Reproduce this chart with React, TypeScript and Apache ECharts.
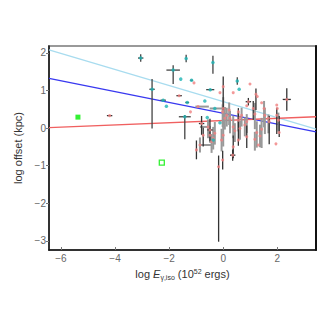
import React, { useEffect, useRef } from "react";
import * as echarts from "echarts";

// [x, y, xErrLo, xErrHi, yErrLo, yErrHi]
const cyanPoints = [
  [-3.05, 1.86, 0.1, 0.1, 0.1, 0.1],
  [-1.85, 1.54, 0.25, 0.25, 0.37, 0.13],
  [-1.57, 1.3, 0, 0, 0, 0],
  [-2.63, 1.03, 0.1, 0.1, 1.04, 0.27],
  [-2.22, 0.74, 0.1, 0.1, 0, 0],
  [-2.1, 0.58, 0, 0, 0, 0],
  [-1.33, 0.68, 0.07, 0.07, 0, 0],
  [-1.42, 0.3, 0.22, 0.22, 0.6, 0.05],
  [-1.37, 1.85, 0, 0, 0.1, 0.1],
  [-0.38, 1.74, 0, 0, 0.3, 0.18],
  [-1.17, 1.27, 0.05, 0.05, 0, 0],
  [-0.48, 1.02, 0.15, 0.15, 0, 0],
  [0.52, 1.25, 0, 0, 0.1, 0.1],
  [0.59, 1.03, 0, 0, 0, 0],
  [-0.68, 0.72, 0, 0, 0, 0],
  [-0.31, 0.52, 0, 0, 0, 0],
  [-0.59, 0.28, 0, 0, 0, 0],
  [-0.12, 0.14, 0, 0, 0, 0],
  [-0.37, -0.32, 0, 0, 0, 0],
];

// [x, y, xErrLo, xErrHi, yErrLo, yErrHi] drawn with dark error bars
const salmonDark = [
  [-4.2, 0.33, 0.1, 0.1, 0, 0],
  [-1.63, 0.86, 0.1, 0.1, 0, 0],
  [0.0, 1.1, 0, 0, 0.62, 0.27],
  [1.21, 0.9, 0, 0, 0.42, 0.15],
  [0.93, 0.7, 0.1, 0.1, 0.1, 0.1],
  [2.35, 0.76, 0.15, 0.15, 0.3, 0.3],
  [0.56, 0.43, 0, 0, 0.9, 0.1],
  [1.11, 0.52, 0, 0, 0.3, 0.2],
  [1.7, 0.17, 0, 0, 0.6, 0.15],
  [2.07, -0.12, 0, 0, 0.12, 0.44],
  [0.37, -0.5, 0, 0, 0.3, 0.3],
  [-0.74, -0.19, 0, 0, 0.3, 0.2],
  [-0.99, -0.58, 0, 0, 0.25, 0.25],
  [0.35, -0.72, 0.1, 0.1, 0.15, 0.15],
  [-0.17, -1.03, 0, 0, 1.99, 0.3],
  [-0.02, -0.85, 0, 0, 0.25, 0.25],
  [-0.8, 0.12, 0.1, 0.1, 0.3, 0.2],
  [-0.49, -0.05, 0.1, 0.1, 0.3, 0.3],
  [1.98, 0.34, 0, 0, 0.5, 0.2],
  [0.87, -0.23, 0, 0, 0.3, 0.3],
];

// [x, y, xErrLo, xErrHi, yErrLo, yErrHi] drawn with grey error bars
const salmonGrey = [
  [-1.08, 1.2, 0, 0, 0, 0],
  [-0.12, 0.94, 0, 0, 0, 0],
  [0.37, 0.94, 0, 0, 0, 0],
  [0.99, 1.17, 0, 0, 0, 0],
  [1.26, 0.84, 0, 0, 0, 0],
  [1.42, 0.67, 0, 0, 0, 0],
  [0.87, 0.59, 0, 0, 0, 0],
  [1.98, 0.61, 0, 0, 0, 0],
  [2.0, 0.52, 0, 0, 0, 0],
  [0.0, 0.52, 0.5, 0.1, 0.5, 0.3],
  [-0.02, 0.43, 0, 0, 0.4, 0.2],
  [0.22, 0.48, 0, 0, 0.4, 0.2],
  [0.06, 0.26, 0, 0, 0.3, 0.3],
  [0.68, 0.34, 0, 0, 0.3, 0.2],
  [0.62, 0.28, 0, 0, 0, 0],
  [1.17, 0.37, 0, 0, 0.4, 0.3],
  [1.51, 0.52, 0, 0, 0.5, 0.2],
  [1.54, 0.34, 0, 0, 0.5, 0.2],
  [1.67, 0.26, 0, 0, 0.4, 0.1],
  [2.04, 0.21, 0, 0, 0.3, 0.2],
  [1.95, -0.42, 0, 0, 0, 0],
  [0.87, 0.17, 0, 0, 0.3, 0.2],
  [0.56, 0.21, 0, 0, 0.3, 0.2],
  [0.37, 0.03, 0, 0, 0.3, 0.3],
  [0.43, -0.07, 0, 0, 0.3, 0.2],
  [0.25, 0.26, 0, 0, 0.4, 0.2],
  [0.62, -0.01, 0, 0, 0.3, 0.2],
  [0.8, 0.08, 0, 0, 0.3, 0.2],
  [1.24, -0.12, 0, 0, 0.4, 0.3],
  [1.36, -0.21, 0, 0, 0.3, 0.3],
  [1.42, -0.03, 0, 0, 0.5, 0.3],
  [1.17, -0.3, 0, 0, 0.3, 0.2],
  [1.3, -0.45, 0, 0, 0, 0],
  [0.56, -0.32, 0, 0, 0, 0],
  [-0.06, -0.32, 0, 0, 0.3, 0.3],
  [0.0, -0.19, 0, 0, 0.3, 0.3],
  [-0.49, -0.19, 0, 0, 0.2, 0.2],
  [-0.37, -0.27, 0, 0, 0.3, 0.3],
  [-0.56, 0.03, 0.3, 0.1, 0.3, 0.2],
  [-0.31, -0.14, 0, 0, 0.3, 0.3],
  [-0.43, -0.36, 0, 0, 0.3, 0.2],
  [-0.86, -0.45, 0, 0.45, 0.2, 0.2],
  [-1.21, 0.43, 0, 0, 0, 0],
  [-0.93, 0.57, 0.1, 0.4, 0, 0],
  [0.13, 0.34, 0, 0, 0.3, 0.2],
];

const greenFilled = [[-5.37, 0.29]];
const greenOpen = [[-2.27, -0.92]];

const lightBlueLine = [[-6.44, 2.08], [3.43, -0.03]];
const blueLine = [[-6.44, 1.32], [3.43, -0.1]];
const redLine = [[-6.44, 0.01], [3.43, 0.3]];

const xTicks = [-6, -4, -2, 0, 2];
const yTicks = [-3, -2, -1, 0, 1, 2];

const fmt = (v: number) => (v < 0 ? "\u2212" + Math.abs(v) : String(v));

function errorSeries(data: number[][], color: string, width: number) {
  return {
    type: "custom",
    data,
    encode: { x: 0, y: 1 },
    silent: true,
    z: 2,
    renderItem: (params: any, api: any) => {
      const x = api.value(0), y = api.value(1);
      const exl = api.value(2), exh = api.value(3);
      const eyl = api.value(4), eyh = api.value(5);
      const children: any[] = [];
      if (exl > 0 || exh > 0) {
        const a = api.coord([x - exl, y]);
        const b = api.coord([x + exh, y]);
        children.push({ type: "line", shape: { x1: a[0], y1: a[1], x2: b[0], y2: b[1] }, style: { stroke: color, lineWidth: width } });
      }
      if (eyl > 0 || eyh > 0) {
        const a = api.coord([x, y - eyl]);
        const b = api.coord([x, y + eyh]);
        children.push({ type: "line", shape: { x1: a[0], y1: a[1], x2: b[0], y2: b[1] }, style: { stroke: color, lineWidth: width } });
      }
      return { type: "group", children };
    },
  };
}

export default function App() {
  const ref = useRef<HTMLDivElement>(null);
  useEffect(() => {
    const chart = echarts.init(ref.current!, null, { renderer: "svg" });
    const font = "Liberation Sans, Arial, sans-serif";
    chart.setOption({
      animation: false,
      backgroundColor: "#fff",
      grid: { left: 49, top: 46, width: 267, height: 204, show: true, borderColor: "#999", borderWidth: 2 },
      xAxis: [
        {
          type: "value", min: -6.44, max: 3.43,
          axisLine: { show: true, onZero: false, lineStyle: { color: "#111", width: 1.5 } },
          axisTick: { show: true, inside: true, length: 3, customValues: xTicks, lineStyle: { color: "#777" } },
          axisLabel: { customValues: xTicks, formatter: fmt, color: "#666", fontSize: 10, fontFamily: font, margin: 3 },
          splitLine: { show: false },
          name: "{n|log }{i|E}{s|\u03b3,iso}{n| (10}{sup|52}{n| ergs)}",
          nameLocation: "middle", nameGap: 17,
          nameTextStyle: {
            color: "#333", fontFamily: font, fontSize: 11,
            rich: {
              n: { fontSize: 11, fontFamily: font, color: "#333" },
              i: { fontSize: 11, fontFamily: font, fontStyle: "italic", color: "#333" },
              s: { fontSize: 7, fontFamily: font, color: "#333", padding: [6, 0, 0, 0] },
              sup: { fontSize: 7, fontFamily: font, color: "#333", padding: [0, 0, 6, 0] },
            },
          },
        },
      ],
      yAxis: [
        {
          type: "value", min: -3.24, max: 2.18,
          axisLine: { show: true, onZero: false, lineStyle: { color: "#111", width: 1.5 } },
          axisTick: { show: true, inside: false, length: 3, customValues: yTicks, lineStyle: { color: "#777" } },
          axisLabel: { customValues: yTicks, formatter: fmt, color: "#666", fontSize: 10, fontFamily: font, margin: 3 },
          splitLine: { show: false },
          name: "log offset (kpc)", nameLocation: "middle", nameGap: 19,
          nameTextStyle: { color: "#333", fontFamily: font, fontSize: 11 },
        },
        {
          type: "value", min: -3.24, max: 2.18, position: "right",
          axisLine: { show: true, onZero: false, lineStyle: { color: "#111", width: 2 } },
          axisTick: { show: false }, axisLabel: { show: false }, splitLine: { show: false },
        },
      ],
      series: [
        { type: "line", data: lightBlueLine, symbol: "none", lineStyle: { color: "#a8dcef", width: 1.3 }, z: 1, silent: true },
        { type: "line", data: blueLine, symbol: "none", lineStyle: { color: "#3838f0", width: 1.3 }, z: 1, silent: true },
        { type: "line", data: redLine, symbol: "none", lineStyle: { color: "#f06060", width: 1.3 }, z: 1, silent: true },
        errorSeries(salmonGrey, "#999", 2),
        errorSeries(salmonDark, "#333", 1.3),
        errorSeries(cyanPoints, "#444", 1.3),
        { type: "scatter", data: salmonGrey, symbol: "circle", symbolSize: 3, itemStyle: { color: "#f08080" }, z: 3 },
        { type: "scatter", data: salmonDark, symbol: "circle", symbolSize: 3, itemStyle: { color: "#f08080" }, z: 3 },
        { type: "scatter", data: cyanPoints, symbol: "circle", symbolSize: 3.5, itemStyle: { color: "#1eb4b4" }, z: 4 },
        { type: "scatter", data: greenFilled, symbol: "rect", symbolSize: 5, itemStyle: { color: "#00ee00" }, z: 4 },
        { type: "scatter", data: greenOpen, symbol: "rect", symbolSize: 5, itemStyle: { color: "#fff", borderColor: "#00ee00", borderWidth: 1.3 }, z: 4 },
      ],
    });
    return () => chart.dispose();
  }, []);
  return <div ref={ref} style={{ position: "absolute", left: 0, top: 0, width: 332, height: 329 }} />;
}
